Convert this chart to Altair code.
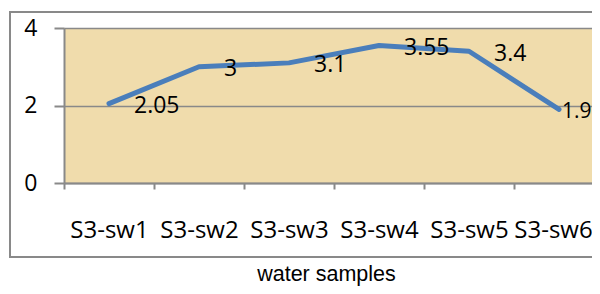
import altair as alt
import pandas as pd

samples = ["S3-sw1", "S3-sw2", "S3-sw3", "S3-sw4", "S3-sw5", "S3-sw6"]
values = [2.05, 3, 3.1, 3.55, 3.4, 1.9]
labels = ["2.05", "3", "3.1", "3.55", "3.4", "1.9"]
y_ticks = [0, 2, 4]

df = pd.DataFrame({"sample": samples, "value": values, "label": labels})

GRAY = "#898989"
LABEL_FONT = "Open Sans"

x_enc = alt.X(
    "sample:N",
    sort=samples,
    scale=alt.Scale(range=[0, 540], paddingInner=0, paddingOuter=0),
    axis=alt.Axis(
        title="water samples",
        titleFont="Liberation Sans",
        titleFontSize=21.5,
        titleFontWeight="normal",
        titleColor="black",
        titleX=262,
        titleY=97,
        titleBaseline="alphabetic",
        labelFont=LABEL_FONT,
        labelFontSize=24,
        labelColor="black",
        labelBaseline="alphabetic",
        labelAngle=0,
        labelPadding=48,
        labelOffset={"condition": {"test": "datum.value === 'S3-sw6'", "value": -6}, "value": 0},
        tickSize=6,
        tickWidth=2,
        tickColor=GRAY,
        tickBand="extent",
        domainColor=GRAY,
        domainWidth=2,
        grid=False,
    ),
)

y_enc = alt.Y(
    "value:Q",
    scale=alt.Scale(domain=[0, 4]),
    axis=alt.Axis(
        values=y_ticks,
        title=None,
        labelFont=LABEL_FONT,
        labelFontSize=23,
        labelColor="black",
        labelPadding=17,
        tickSize=10,
        tickWidth=2,
        tickColor=GRAY,
        domainColor=GRAY,
        domainWidth=2,
        gridColor=GRAY,
        gridWidth=1.5,
    ),
)

base = alt.Chart(df)

frame = alt.Chart(alt.Data(values=[{"f": 1}])).mark_rect(
    fill="transparent", stroke=GRAY, strokeWidth=2
).encode(
    x=alt.value(-54), x2=alt.value(620), y=alt.value(-16), y2=alt.value(229)
)

line = base.mark_line(color="#4A7EBB", strokeWidth=5, strokeCap="round", strokeJoin="round").encode(
    x=x_enc, y=y_enc
)

text_main = base.transform_filter(alt.datum.sample != "S3-sw6").mark_text(
    align="left", baseline="middle", dx=25, dy=2.5, font=LABEL_FONT, fontSize=23, color="black"
).encode(x=alt.X("sample:N", sort=samples), y="value:Q", text="label:N")

text_last = base.transform_filter(alt.datum.sample == "S3-sw6").mark_text(
    align="left", baseline="middle", dx=3, dy=3, font=LABEL_FONT, fontSize=21, color="black"
).encode(x=alt.X("sample:N", sort=samples), y="value:Q", text="label:N")

chart = (
    alt.layer(frame, line, text_main, text_last)
    .properties(
        width=528,
        height=155,
        autosize=alt.AutoSizeParams(type="none"),
        padding={"left": 56, "top": 20, "right": 0, "bottom": 103},
        background="white",
    )
    .configure_view(fill="#F0DCAC", strokeWidth=0)
)

chart.save("out.html", embed_options={"renderer": "svg", "actions": False})
